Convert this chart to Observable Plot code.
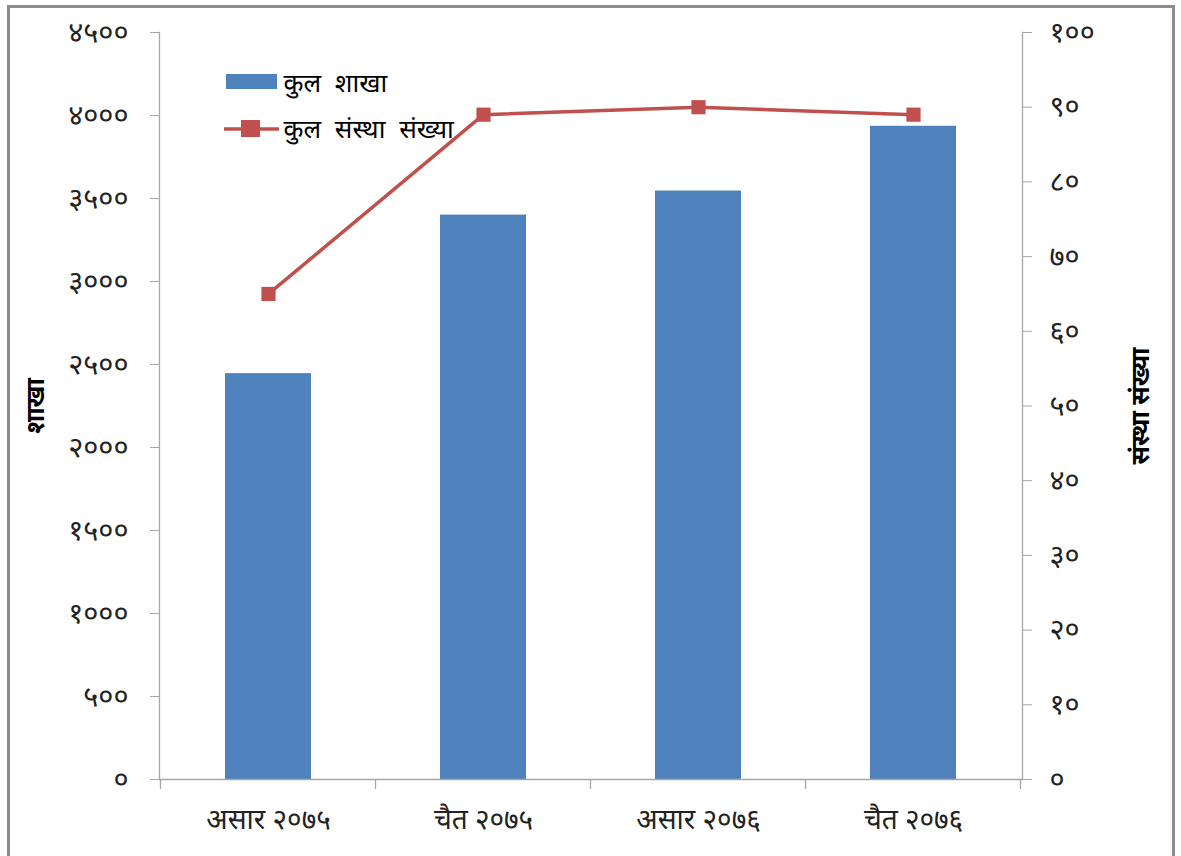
<!DOCTYPE html>
<html>
<head>
<meta charset="utf-8">
<script src="https://cdn.jsdelivr.net/npm/d3@7"></script>
<script src="https://cdn.jsdelivr.net/npm/@observablehq/plot@0.6"></script>
<style>
  html, body { margin: 0; padding: 0; background: #fff; }
  #wrap { position: relative; width: 1181px; height: 856px; overflow: hidden; }
  #frame { position: absolute; left: 7px; top: 5px; width: 1162px; height: 870px; border: 3px solid #8c8c8c; box-sizing: content-box; }
  #chart { position: absolute; left: 0; top: 0; }
  svg { font-family: "Noto Sans Devanagari", "Lohit Devanagari", "Noto Serif Devanagari", "Noto Sans", sans-serif; }
</style>
</head>
<body>
<div id="wrap"><div id="frame"></div><div id="chart"></div></div>
<script>
// ---- data ----
const categories = ["असार २०७५", "चैत २०७५", "असार २०७६", "चैत २०७६"];
const branches = [2445, 3400, 3545, 3935];       // कुल शाखा (left axis)
const institutions = [65, 89, 90, 89];           // कुल संस्था संख्या (right axis)
const leftTicks = [0, 500, 1000, 1500, 2000, 2500, 3000, 3500, 4000, 4500];
const rightTicks = [0, 10, 20, 30, 40, 50, 60, 70, 80, 90, 100];
const seriesNames = ["कुल शाखा", "कुल संस्था संख्या"];
const leftTitle = "शाखा";
const rightTitle = "संस्था संख्या";

const leftMax = 4500, rightMax = 100;
const k = leftMax / rightMax;
const devDigits = "०१२३४५६७८९";
const dev = (n) => String(n).replace(/[0-9]/g, d => devDigits[+d]);

const barData = categories.map((c, i) => ({cat: c, v: branches[i]}));
const lineData = categories.map((c, i) => ({cat: c, v: institutions[i], vs: institutions[i] * k}));

const W = 1181, H = 856;
const mL = 159, mR = 159, mT = 32, mB = 77;
const blue = "#4F81BD", red = "#C0504D", axisGray = "#a6a6a6";

// boundary tick marks for band x-axis (between categories)
function bandTicks(index, scales, values, dims) {
  const x = scales.x, y = scales.y;
  const step = x.step ? x.step() : (dims.width - dims.marginLeft - dims.marginRight) / categories.length;
  const bw = x.bandwidth ? x.bandwidth() : 0;
  const y0 = y(0);
  const g = d3.create("svg:g");
  const xs = categories.map(c => x(c) - (step - bw) / 2);
  xs.push(xs[xs.length - 1] + step);
  for (const xx of xs) {
    g.append("line").attr("x1", xx).attr("x2", xx).attr("y1", y0).attr("y2", y0 + 10)
      .attr("stroke", axisGray).attr("stroke-width", 1.3);
  }
  return g.node();
}

const plot = Plot.plot({
  width: W, height: H,
  marginLeft: mL, marginRight: mR, marginTop: mT, marginBottom: mB,
  style: {background: "transparent", overflow: "visible"},
  x: {domain: categories, paddingInner: 0.6, paddingOuter: 0.3},
  y: {domain: [0, leftMax]},
  marks: [
    Plot.barY(barData, {x: "cat", y: "v", fill: blue}),
    Plot.ruleY([0], {stroke: axisGray, strokeWidth: 1.3}),
    Plot.axisY({anchor: "left", ticks: leftTicks, tickFormat: dev, tickSize: 9, tickPadding: 22,
      fontSize: 29, stroke: axisGray, fill: "#222", label: null}),
    Plot.axisY({anchor: "right", ticks: rightTicks.map(v => v * k), tickFormat: d => dev(Math.round(d / k)),
      tickSize: 9, tickPadding: 18, fontSize: 29, stroke: axisGray, fill: "#222", label: null}),
    Plot.frame({anchor: "left", stroke: axisGray, strokeWidth: 1.3}),
    Plot.frame({anchor: "right", stroke: axisGray, strokeWidth: 1.3}),
    Plot.axisX({tickSize: 0, tickPadding: 30, fontSize: 28, fill: "#222", label: null}),
    bandTicks,
    Plot.line(lineData, {x: "cat", y: "vs", stroke: red, strokeWidth: 3.5}),
    Plot.dot(lineData, {x: "cat", y: "vs", symbol: "square", r: 8, fill: red, stroke: "none"}),
    // axis titles
    Plot.text([leftTitle], {frameAnchor: "left", textAnchor: "middle", dx: -124, rotate: -90, fontSize: 25, fontWeight: "bold", fill: "#000"}),
    Plot.text([rightTitle], {frameAnchor: "right", textAnchor: "middle", dx: 118, rotate: -90, fontSize: 25, fontWeight: "bold", fill: "#000"}),
    // legend
    Plot.text([seriesNames[0]], {frameAnchor: "top-left", dx: 124, dy: 41, textAnchor: "start", fontSize: 26, fill: "#000", className: "legend-text"}),
    Plot.text([seriesNames[1]], {frameAnchor: "top-left", dx: 124, dy: 87, textAnchor: "start", fontSize: 26, fill: "#000", className: "legend-text"})
  ]
});

// legend swatches drawn into the SVG
const svg = d3.select(plot);
svg.selectAll(".legend-text text").style("word-spacing", "7px");
const lg = svg.append("g");
lg.append("rect").attr("x", 226).attr("y", 74).attr("width", 51).attr("height", 15).attr("fill", blue);
lg.append("line").attr("x1", 224).attr("x2", 279).attr("y1", 129).attr("y2", 129).attr("stroke", red).attr("stroke-width", 3.5);
lg.append("rect").attr("x", 241).attr("y", 120).attr("width", 19).attr("height", 17).attr("fill", red);

document.getElementById("chart").appendChild(plot);
</script>
</body>
</html>
